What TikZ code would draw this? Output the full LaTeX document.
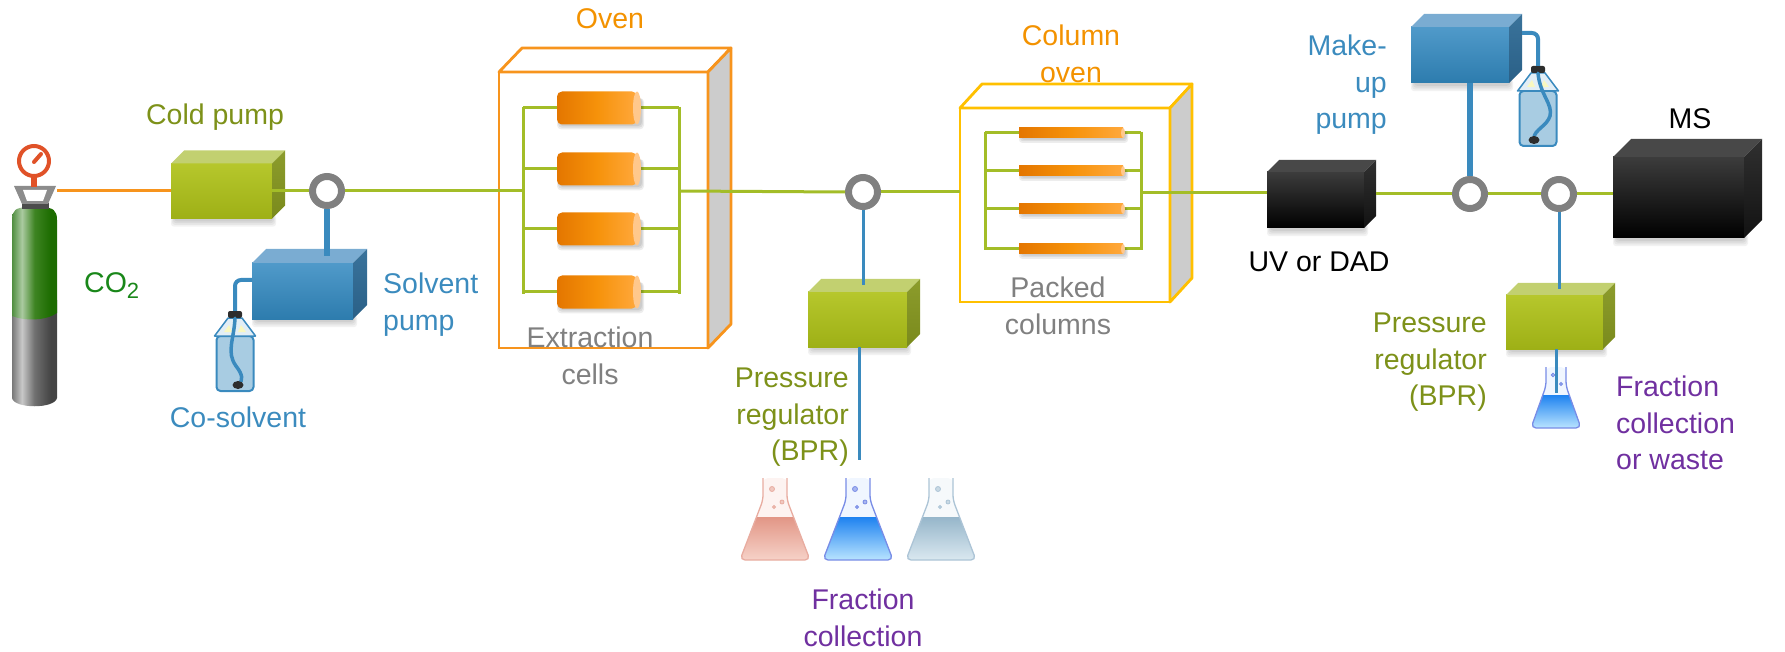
\documentclass[tikz,border=0pt]{standalone}
\usepackage{fontspec}
\setmainfont{Liberation Sans}
\usetikzlibrary{calc}

% text colours
\definecolor{olivetxt}{RGB}{125,145,25}
\definecolor{co2green}{RGB}{25,135,25}
\definecolor{bluetxt}{RGB}{59,139,190}
\definecolor{orangetxt}{RGB}{243,146,0}
\definecolor{graytxt}{RGB}{128,128,128}
\definecolor{purpletxt}{RGB}{112,48,160}
% pipes and valves
\definecolor{pipegreen}{RGB}{163,189,40}
\definecolor{pipeorange}{RGB}{247,148,29}
\definecolor{pipeblue}{RGB}{58,138,190}
\definecolor{ringgray}{RGB}{128,128,128}
\definecolor{capblack}{RGB}{45,45,45}
% ovens
\definecolor{ovenorange}{RGB}{247,148,29}
\definecolor{ovenyellow}{RGB}{255,192,0}
\definecolor{ovenside}{RGB}{204,204,204}
% green boxes
\definecolor{grnA}{RGB}{182,199,44}
\definecolor{grnB}{RGB}{158,176,22}
\definecolor{grnT}{RGB}{194,208,112}
\definecolor{grnS}{RGB}{140,156,44}
\definecolor{grnS2}{RGB}{122,138,28}
% blue boxes
\definecolor{bluA}{RGB}{80,154,202}
\definecolor{bluB}{RGB}{45,124,174}
\definecolor{bluT}{RGB}{122,172,210}
\definecolor{bluS}{RGB}{58,115,155}
\definecolor{bluS2}{RGB}{42,96,135}
% black boxes
\definecolor{blkA}{RGB}{60,60,60}
\definecolor{blkB}{RGB}{0,0,0}
\definecolor{blkT}{RGB}{72,72,72}
\definecolor{blkS}{RGB}{48,48,48}
\definecolor{blkS2}{RGB}{18,18,18}
% cells
\definecolor{cellA}{RGB}{228,118,0}
\definecolor{cellB}{RGB}{246,146,10}
\definecolor{cellC}{RGB}{255,168,60}
\definecolor{cellcap}{RGB}{255,200,140}
% bottles
\definecolor{bottlebody}{RGB}{168,204,226}
\definecolor{bottleneck}{RGB}{226,238,246}
% flasks
\definecolor{frEdge}{RGB}{232,172,160}
\definecolor{frGlass}{RGB}{253,243,241}
\definecolor{frTop}{RGB}{226,150,134}
\definecolor{frBot}{RGB}{246,210,200}
\definecolor{fbEdge}{RGB}{120,140,230}
\definecolor{fbGlass}{RGB}{240,246,255}
\definecolor{fbTop}{RGB}{30,130,240}
\definecolor{fbBot}{RGB}{185,228,255}
\definecolor{fgEdge}{RGB}{172,196,214}
\definecolor{fgGlass}{RGB}{246,249,251}
\definecolor{fgTop}{RGB}{150,182,202}
\definecolor{fgBot}{RGB}{218,232,240}
% gas cylinder
\definecolor{gaugered}{RGB}{224,82,40}
\definecolor{valvegray}{RGB}{140,140,140}
\definecolor{tgA}{RGB}{80,142,64}
\definecolor{tgB}{RGB}{170,202,160}
\definecolor{tgC}{RGB}{62,132,34}
\definecolor{tgD}{RGB}{28,108,0}
\definecolor{tkA}{RGB}{120,120,120}
\definecolor{tkB}{RGB}{200,200,200}
\definecolor{tkC}{RGB}{112,112,112}
\definecolor{tkD}{RGB}{68,68,68}
\pgfdeclarehorizontalshading{tankgreen}{100bp}{color(0bp)=(tgA); color(25bp)=(tgA); color(36bp)=(tgB); color(50bp)=(tgC); color(68bp)=(tgD); color(100bp)=(tgD)}
\pgfdeclarehorizontalshading{tankgray}{100bp}{color(0bp)=(tkA); color(25bp)=(tkA); color(36bp)=(tkB); color(50bp)=(tkC); color(68bp)=(tkD); color(100bp)=(tkD)}

% 3-D box: name, cx, cy, width, height, depth, palette
\newcommand\cubebox[7]{%
  \foreach \s in {1,...,4}{
    \fill[black,opacity=0.05,rounded corners=3pt] ({#2-#4/2+4-\s},{#3+#5/2-4}) rectangle ({#2+#4/2+\s},{#3+#5/2+1+1.8*\s});}
  \node[cubefront, minimum width=#4pt, minimum height=#5pt, top color=#7A, bottom color=#7B] (#1) at (#2,#3) {};
  \fill[#7T] (#1.north west) -- ++(#6,-#6) -- ([shift={(#6pt,#6pt)}]#1.north east) -- (#1.north east) -- cycle;
  \shade[top color=#7S, bottom color=#7S2] (#1.north east) -- ++(#6,-#6) -- ([shift={(#6pt,#6pt)}]#1.south east) -- (#1.south east) -- cycle;
  \coordinate (#1-top) at ($(#1.north)+({#6/2},{-#6/2})$);
}
% oven cabinet: name, cx, cy, width, height, dx, dy, colour
\newcommand\ovenbox[8]{%
  \node[ovenfront, draw=#8, minimum width=#4pt, minimum height=#5pt] (#1) at (#2,#3) {};
  \filldraw[fill=white, draw=#8, line width=2.8pt, line join=round] (#1.north west) -- ++(#6,-#7) -- ([shift={(#6pt,#7pt)}]#1.north east) -- (#1.north east) -- cycle;
  \filldraw[fill=ovenside, draw=#8, line width=2.8pt, line join=round] (#1.north east) -- ++(#6,-#7) -- ([shift={(#6pt,#7pt)}]#1.south east) -- (#1.south east) -- cycle;
}
% extraction cell: x1, x2, cy
\newcommand\extcell[3]{%
  \foreach \s in {1,2,3}{
    \fill[black,opacity=0.07,rounded corners=4pt] ({#1+3-\s},{#3-10}) rectangle ({#2+\s},{#3+16.5+1.6*\s});}
  \shade[left color=cellA, right color=cellC, middle color=cellB, rounded corners=5pt] (#1,{#3-16.5}) rectangle ({#2-4},{#3+16.5});
  \fill[cellcap] ({#2-4},#3) ellipse [x radius=4, y radius=16.5];
}
% packed column: x1, x2, cy
\newcommand\packcol[3]{%
  \foreach \s in {1,2,3}{
    \fill[black,opacity=0.07,rounded corners=3pt] ({#1+3-\s},{#3-2}) rectangle ({#2+\s},{#3+5+1.6*\s});}
  \shade[left color=cellA, right color=cellC, middle color=cellB] (#1,{#3-5}) rectangle ({#2-2},{#3+5});
  \fill[cellcap] ({#2-2},#3) ellipse [x radius=2, y radius=5];
}
% solvent bottle: cap name, cx, top of cap
\newcommand\bottle[3]{%
  \filldraw[fill=bottlebody, draw=pipeblue, line width=2pt, rounded corners=4pt] ({#2-18.5},{#3+25}) rectangle ({#2+18.5},{#3+80});
  \filldraw[fill=bottleneck, draw=pipeblue, line width=1.5pt, line join=round] ({#2-7},{#3+7}) -- ({#2-20.5},{#3+25}) -- ({#2+20.5},{#3+25}) -- ({#2+7},{#3+7}) -- cycle;
  \fill[yellow!30, opacity=0.8] ({#2-6},{#3+14}) -- ({#2-11},{#3+21}) -- ({#2-3},{#3+21}) -- cycle;
  \fill[yellow!30, opacity=0.8] ({#2+6},{#3+14}) -- ({#2+11},{#3+21}) -- ({#2+3},{#3+21}) -- cycle;
  \node[capnode] (#1) at (#2,{#3+3.5}) {};
}
% Erlenmeyer flask: cx, top, neck bottom, base, neck half width, base half width, liquid level, palette
\newcommand\flask[8]{%
  \begin{scope}
    \clip[rounded corners=5pt] ({#1-#5},#2) -- ({#1-#5},#3) -- ({#1-#6},#4) -- ({#1+#6},#4) -- ({#1+#5},#3) -- ({#1+#5},#2) -- cycle;
    \fill[#8Glass] ({#1-#6},#2) rectangle ({#1+#6},#4);
    \shade[top color=#8Top, bottom color=#8Bot] ({#1-#6},#7) rectangle ({#1+#6},#4);
  \end{scope}
  \draw[#8Edge, line width=1.3pt, rounded corners=5pt] ({#1-#5},#2) -- ({#1-#5},#3) -- ({#1-#6},#4) -- ({#1+#6},#4) -- ({#1+#5},#3) -- ({#1+#5},#2);
}

\begin{document}
\begin{tikzpicture}[x=1pt,y=-1pt,
  lbl/.style={inner sep=0pt, font=\fontsize{28.5}{36.5}\selectfont},
  cubefront/.style={rectangle, inner sep=0pt, outer sep=0pt},
  ovenfront/.style={rectangle, inner sep=0pt, outer sep=0pt, fill=white, line width=2.8pt},
  valvering/.style={circle, draw=ringgray, line width=7pt, fill=white, minimum size=29pt, inner sep=0pt},
  pipe/.style={draw=pipegreen, line width=3pt},
  feed/.style={draw=pipeorange, line width=3pt},
  bluethick/.style={draw=pipeblue, line width=6pt},
  bluethin/.style={draw=pipeblue, line width=3pt},
  tube/.style={draw=pipeblue, line width=4pt, rounded corners=6pt},
  innertube/.style={draw=pipeblue, line width=3.5pt, line cap=round},
  capnode/.style={rectangle, fill=capblack, minimum width=14pt, minimum height=7pt, rounded corners=2pt, inner sep=0pt},
  bubble/.style={draw, line width=0.8pt, fill=white, fill opacity=0.6}]
\useasboundingbox (0,0) rectangle (1785,652);

% ---------- CO2 cylinder ----------
\shade[shading=tankgray] (12,300) -- (12,398) .. controls (14,409) and (55,409) .. (57,398) -- (57,300) -- cycle;
\shade[shading=tankgreen] (12,318) -- (12,220) .. controls (12,210) and (16,208) .. (26,207) -- (43,207) .. controls (53,208) and (57,210) .. (57,220) -- (57,313) .. controls (46,321) and (24,321) .. (12,316) -- cycle;
\fill[black!70] (22,203) rectangle (49,209);
\fill[valvegray] (14,186) -- (56,186) -- (48,204) -- (22,204) -- cycle;
\fill[white] (23,190) -- (47,190) -- (43,201) -- (27,201) -- cycle;
\fill[gaugered] (31,176) rectangle (37,187);
\draw[gaugered, line width=4pt] (34,161) circle [radius=15];
\draw[gaugered, line width=4pt, line cap=round] (34,162) -- (41,154);
\coordinate (tankout) at (57,191);

% ---------- ovens ----------
\ovenbox{oven}{603.5}{210}{209}{276}{23}{24}{ovenorange}
\ovenbox{coloven}{1065}{205}{210}{194}{22}{24}{ovenyellow}

% extraction cell manifold
\coordinate (exL) at (523,191);
\coordinate (exR) at (679,191);
\draw[pipe] (523,107) -- (523,294);
\draw[pipe] (679,107) -- (679,294);
\foreach \y in {108,169,229,292} {\draw[pipe] (523,\y) -- (679,\y);}
\foreach \y in {108,169,229,292} {\extcell{557}{641}{\y}}

% packed column manifold
\coordinate (cmR) at (1141,193);
\draw[pipe] (985,132) -- (985,250);
\draw[pipe] (1141,132) -- (1141,250);
\foreach \y in {133,171,209,249} {\draw[pipe] (985,\y) -- (1141,\y);}
\foreach \y in {133,171,209,249} {\packcol{1019}{1125}{\y}}

% ---------- bottles ----------
\bottle{cap1}{235}{311}
\bottle{cap2}{1538}{66}
\draw[innertube] (cap1.south) .. controls (234,340) and (226,352) .. (236,366) .. controls (243,375) and (243,380) .. (239,384);
\fill[capblack] (238,385) ellipse [x radius=5.5, y radius=4];
\draw[innertube] (cap2.south) .. controls (1540,95) and (1553,104) .. (1550,116) .. controls (1547,126) and (1534,130) .. (1534,138);
\fill[capblack] (1534,140) ellipse [x radius=5.5, y radius=4];

% ---------- pumps, regulators, detectors ----------
\cubebox{cold}{221.5}{191}{101}{55}{13}{grn}
\cubebox{solv}{302.5}{291}{101}{56}{14}{blu}
\cubebox{bpr1}{857.5}{319.5}{99}{55}{13}{grn}
\cubebox{uv}{1315.5}{200}{97}{56}{12}{blk}
\cubebox{mkp}{1460}{55}{98}{56}{13}{blu}
\cubebox{ms}{1678.5}{197.5}{131}{81}{18}{blk}
\cubebox{bpr2}{1554.5}{322}{97}{54}{12}{grn}

% solvent supply tubes
\draw[tube] ([yshift=11pt]solv.west) -| (cap1.north);
\draw[tube] ([xshift=13pt,yshift=22pt]mkp.east) -| (cap2.north);

% ---------- flasks ----------
\flask{775}{478}{500}{560}{12}{35}{517}{fr}
\flask{858}{478}{500}{560}{12}{35}{517}{fb}
\flask{941}{478}{500}{560}{12}{35}{517}{fg}
\flask{1556}{367}{386}{428}{10}{25}{395}{fb}
\draw[bubble, frEdge] (772,489) circle [radius=2.5] (782,502) circle [radius=2] (774,507) circle [radius=1.5];
\draw[bubble, fbEdge] (855,489) circle [radius=2.5] (865,502) circle [radius=2] (857,507) circle [radius=1.5];
\draw[bubble, fgEdge] (938,489) circle [radius=2.5] (948,502) circle [radius=2] (940,507) circle [radius=1.5];
\draw[bubble, fbEdge] (1553,375) circle [radius=1.8] (1561,384) circle [radius=1.5];

% ---------- valves ----------
\node[valvering] (r1) at (327,191) {};
\node[valvering] (rb) at (863,192) {};
\node[valvering] (r2) at (1470,194) {};
\node[valvering] (r3) at (1559,194) {};

% ---------- main flow line ----------
\draw[feed] (tankout) -- (cold.west);
\draw[pipe] (cold.east) -- (r1.west);
\draw[pipe] (r1.east) -- (exL);
\draw[pipe] (exR) -- (rb.west);
\draw[pipe] (rb.east) -- (rb.east -| coloven.west);
\draw[pipe] (cmR) -- (cmR -| uv.west);
\coordinate (uvout) at ([xshift=12pt]uv.east);
\draw[pipe] (uvout |- r2) -- (r2.west);
\draw[pipe] (r2.east) -- (r3.west);
\draw[pipe] (r3.east) -- (r3 -| ms.west);

% ---------- branch lines ----------
\draw[bluethick] (r1.south) -- (r1 |- solv-top);
\draw[bluethick] (r2.north) -- (r2 |- mkp.south);
\draw[bluethin] (rb.south) -- (rb |- bpr1-top);
\draw[bluethin] (r3.south) -- (r3 |- bpr2-top);
\coordinate (out1) at (859,460);
\coordinate (out2) at (1556,393);
\draw[bluethin] (bpr1.south -| out1) -- (out1);
\draw[bluethin] (bpr2.south -| out2) -- (out2);

% ---------- labels ----------
\node[lbl, olivetxt, anchor=north] (tcold) at (215,104) {Cold pump};
\node[lbl, co2green, anchor=north west] (tco2) at (84,272) {CO\raisebox{-6pt}{\fontsize{22}{22}\selectfont 2}};
\node[lbl, bluetxt, anchor=north west, align=left] (tsolv) at (383,273) {Solvent\\pump};
\node[lbl, bluetxt, anchor=north] (tcosol) at (238,407) {Co-solvent};
\node[lbl, orangetxt, anchor=north] (toven) at (610,8) {Oven};
\node[lbl, graytxt, anchor=north, align=center] (textr) at (590,327) {Extraction\\cells};
\node[lbl, olivetxt, anchor=north east, align=right] (tbpr1) at (849,368) {Pressure\\regulator\\(BPR)};
\node[lbl, purpletxt, anchor=north, align=center] (tfrac1) at (863,589) {Fraction\\collection};
\node[lbl, orangetxt, anchor=north, align=center] (tcolov) at (1071,25) {Column\\oven};
\node[lbl, graytxt, anchor=north, align=center] (tpacked) at (1058,277) {Packed\\columns};
\node[lbl, black, anchor=north] (tuv) at (1319,252) {UV or DAD};
\node[lbl, bluetxt, anchor=north east, align=right] (tmkp) at (1387,35) {Make-\\up\\pump};
\node[lbl, black, anchor=north] (tms) at (1690,108) {MS};
\node[lbl, olivetxt, anchor=north east, align=right] (tbpr2) at (1487,313) {Pressure\\regulator\\(BPR)};
\node[lbl, purpletxt, anchor=north west, align=left] (tfrac2) at (1616,376) {Fraction\\collection\\or waste};
\end{tikzpicture}
\end{document}
